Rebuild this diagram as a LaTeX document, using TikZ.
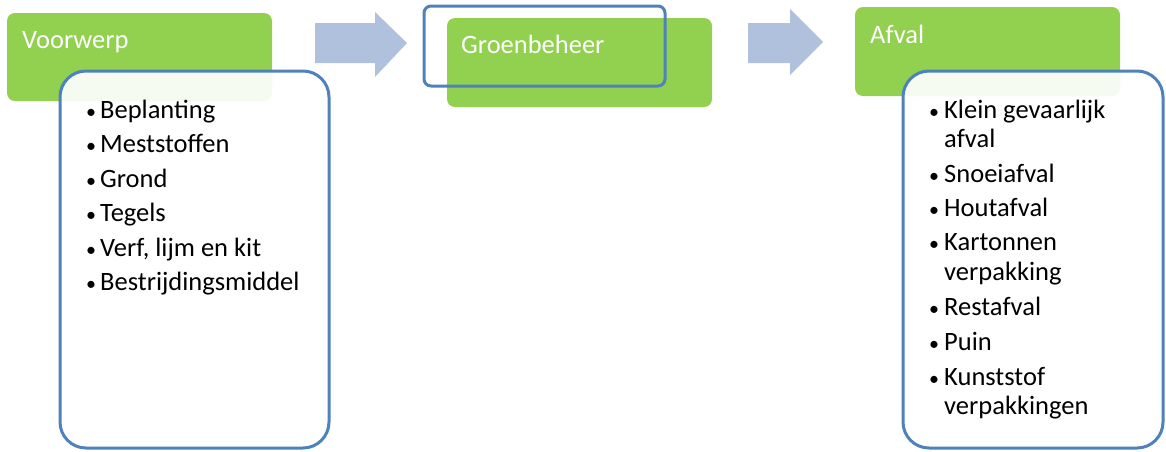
\documentclass[tikz,border=0pt]{standalone}
\usepackage{fontspec}
\setmainfont{Carlito}
\definecolor{grn}{HTML}{92D050}
\definecolor{bdr}{HTML}{4F81BD}
\definecolor{arw}{HTML}{B0C1DD}
\begin{document}
\begin{tikzpicture}[x=1pt,y=-1pt,
  greenbox/.style={fill=grn,rounded corners=8pt},
  listbox/.style={draw=bdr,line width=3pt,fill=white,fill opacity=0.92,rounded corners=26pt},
  title/.style={anchor=base west,inner sep=0pt,text=white,font=\fontsize{26.5}{30}\selectfont},
  item/.style={anchor=base west,inner sep=0pt,font=\fontsize{26.5}{30}\selectfont},
  bul/.style={anchor=base,inner sep=0pt,font=\fontsize{20}{24}\selectfont},
  arrowshape/.style={fill=arw}]
\useasboundingbox (0,0) rectangle (1166,451);
% green boxes
\path[greenbox] (7,13) rectangle (272,101);
\path[greenbox] (447,18) rectangle (712,107);
\path[greenbox] (855,7) rectangle (1120,96);
\node[title] (t1) at (22,48) {Voorwerp};
\node[title] (t2) at (461,53) {Groenbeheer};
\node[title] (t3) at (870,43) {Afval};
% arrows
\path[arrowshape] (315,23) -- (375,23) -- (375,12) -- (407,43) -- (375,77) -- (375,63) -- (315,63) -- cycle;
\path[arrowshape] (748,23) -- (790,23) -- (790,9) -- (823,42) -- (790,75) -- (790,63) -- (748,63) -- cycle;
% outline on Groenbeheer
\draw[bdr,line width=3pt,rounded corners=7pt] (424,6) rectangle (665,86);
% list boxes
\path[listbox] (60,71) rectangle (329,448);
\path[listbox] (903,71) rectangle (1163,448);
% left list
\foreach \y in {118,152.5,187,221.5,256,290.5} \node[bul] at (91,\y) {•};
\node[item] (a1) at (100,118) {Beplanting};
\node[item] (a2) at (100,152.5) {Meststoffen};
\node[item] (a3) at (100,187) {Grond};
\node[item] (a4) at (100,221.5) {Tegels};
\node[item] (a5) at (100,256) {Verf, lijm en kit};
\node[item] (a6) at (100,290.5) {Bestrijdingsmiddel};
% right list
\foreach \y in {118,182,216,250,315,350,385} \node[bul] at (934,\y) {•};
\node[item] (b1) at (944,118) {Klein gevaarlijk};
\node[item] (b1b) at (944,147) {afval};
\node[item] (b2) at (944,182) {Snoeiafval};
\node[item] (b3) at (944,216) {Houtafval};
\node[item] (b4) at (944,250) {Kartonnen};
\node[item] (b4b) at (944,280) {verpakking};
\node[item] (b5) at (944,315) {Restafval};
\node[item] (b6) at (944,350) {Puin};
\node[item] (b7) at (944,385) {Kunststof};
\node[item] (b7b) at (944,414) {verpakkingen};
\end{tikzpicture}
\end{document}
